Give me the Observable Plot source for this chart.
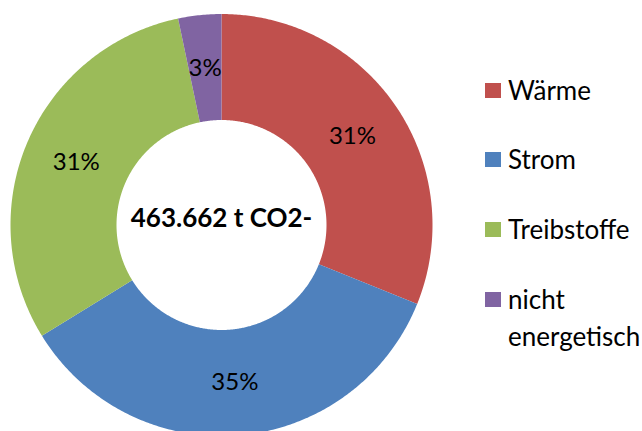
<!DOCTYPE html>
<html>
<head>
<meta charset="utf-8">
<script src="https://cdn.jsdelivr.net/npm/d3@7"></script>
<script src="https://cdn.jsdelivr.net/npm/@observablehq/plot@0.6"></script>
<style>
  html, body { margin: 0; padding: 0; overflow: hidden; background: #fff; }
  #wrap { position: relative; width: 642px; height: 431px; font-family: Lato, "Open Sans", sans-serif; }
  #chart { position: absolute; left: 0; top: 0; }
  .item { position: absolute; left: 485px; display: flex; align-items: flex-start; }
  .sw { width: 16px; height: 15px; margin-top: 11px; margin-right: 7px; flex: none; }
  .lbl { font-size: 26px; line-height: 37px; color: #000; width: 134px; }
</style>
</head>
<body>
<div id="wrap">
  <div id="chart"></div>
  <div id="legend"></div>
</div>
<script>
// ---- data ----
const categories = ["Wärme", "Strom", "Treibstoffe", "nicht energetisch"];
const shares = [31.1, 35.1, 30.5, 3.3];
const shareLabels = ["31%", "35%", "31%", "3%"];
const colors = ["#C0504D", "#4F81BD", "#9BBB59", "#8064A2"];
const centerLabel = "463.662 t CO2-";

// ---- geometry (in unit-circle data space) ----
const outerR = 1;
const innerR = 0.4976;
const midR = (outerR + innerR) / 2;

const arcs = d3.pie().sort(null)(shares);

const polys = [];
arcs.forEach((a, i) => {
  const cat = categories[i];
  const n = Math.max(2, Math.ceil((a.endAngle - a.startAngle) / (Math.PI / 360)));
  for (let k = 0; k <= n; k++) {
    const t = a.startAngle + (a.endAngle - a.startAngle) * k / n;
    polys.push({cat, x: Math.sin(t) * outerR, y: Math.cos(t) * outerR});
  }
  for (let k = n; k >= 0; k--) {
    const t = a.startAngle + (a.endAngle - a.startAngle) * k / n;
    polys.push({cat, x: Math.sin(t) * innerR, y: Math.cos(t) * innerR});
  }
});

const labelPts = arcs.map((a, i) => {
  const m = (a.startAngle + a.endAngle) / 2;
  return {cat: categories[i], text: shareLabels[i], x: Math.sin(m) * midR, y: Math.cos(m) * midR};
});

const chart = Plot.plot({
  width: 642,
  height: 431,
  margin: 0,
  style: {fontFamily: "Lato, 'Open Sans', sans-serif", background: "transparent"},
  x: {domain: [-1, 1], range: [10, 432], axis: null},
  y: {domain: [-1, 1], range: [435.5, 13.5], axis: null},
  color: {domain: categories, range: colors},
  marks: [
    Plot.line(polys, {x: "x", y: "y", z: "cat", fill: "cat", stroke: null, curve: "linear-closed"}),
    Plot.text(labelPts, {x: "x", y: "y", text: "text", fontSize: 24, fill: "#000"}),
    Plot.text([centerLabel], {x: 0, y: 0.03, text: d => d, fontSize: 26, fontWeight: "bold", fill: "#000"})
  ]
});
document.getElementById("chart").appendChild(chart);

// ---- legend ----
const legend = document.getElementById("legend");
categories.forEach((c, i) => {
  const item = document.createElement("div");
  item.className = "item";
  item.style.top = (90 + 69.7 * i - 18.5) + "px";
  const sw = document.createElement("div");
  sw.className = "sw";
  sw.style.background = colors[i];
  const lbl = document.createElement("div");
  lbl.className = "lbl";
  lbl.textContent = c;
  item.appendChild(sw);
  item.appendChild(lbl);
  legend.appendChild(item);
});
</script>
</body>
</html>
